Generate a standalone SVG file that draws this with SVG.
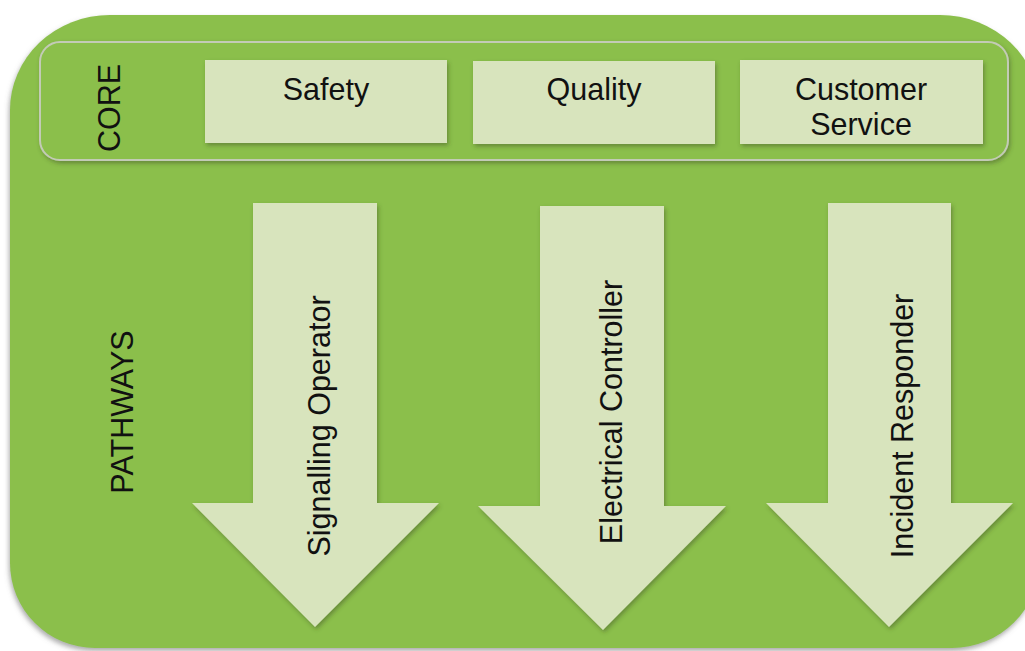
<svg xmlns="http://www.w3.org/2000/svg" width="1025" height="651" viewBox="0 0 1025 651">
  <defs>
    <filter id="sh" x="-10%" y="-10%" width="120%" height="120%">
      <feDropShadow dx="1.5" dy="2.5" stdDeviation="2" flood-color="#3a4a20" flood-opacity="0.45"/>
    </filter>
    <filter id="shbg" x="-5%" y="-5%" width="110%" height="110%">
      <feDropShadow dx="-1" dy="3" stdDeviation="2.5" flood-color="#666666" flood-opacity="0.55"/>
    </filter>
  </defs>
  <style>
    .bg { fill: #8bbf4b; }
    .core { fill: #8bbf4b; stroke: #c3cbb6; stroke-width: 2; }
    .box { fill: #d8e4bd; }
    .arrow { fill: #d8e4bd; }
    text { font-family: "Liberation Sans", Arial, sans-serif; font-size: 30.5px; fill: #111111; }
    .c { text-anchor: middle; }
  </style>
  <rect width="1025" height="651" fill="#ffffff"/>
  <g id="background">
    <path class="bg" d="M110,15 H940 A100,95 0 0 1 1040,110 V560 A88,88 0 0 1 952,648 H95 A85,85 0 0 1 10,563 V110 A100,95 0 0 1 110,15 Z" filter="url(#shbg)"/>
  </g>
  <g id="core">
    <rect class="core" x="40" y="42" width="968" height="118" rx="20" ry="20" filter="url(#sh)"/>
    <text class="c" transform="translate(120,108) rotate(-90)">CORE</text>
  </g>
  <g id="safety">
    <rect class="box" x="205" y="60" width="242" height="83" filter="url(#sh)"/>
    <text class="c" x="326" y="100">Safety</text>
  </g>
  <g id="quality">
    <rect class="box" x="473" y="61" width="242" height="83" filter="url(#sh)"/>
    <text class="c" x="594" y="100">Quality</text>
  </g>
  <g id="customer-service">
    <rect class="box" x="740" y="60" width="243" height="84" filter="url(#sh)"/>
    <text class="c" x="861" y="100">Customer</text>
    <text class="c" x="861" y="135">Service</text>
  </g>
  <g id="pathways">
    <text class="c" transform="translate(133,412) rotate(-90)">PATHWAYS</text>
  </g>
  <g id="connectors">
    <g id="arrow-signalling">
      <polygon class="arrow" points="253,203 377,203 377,503 439,503 315,627 192,503 253,503" filter="url(#sh)"/>
      <text class="c" transform="translate(330,426) rotate(-90)">Signalling Operator</text>
    </g>
    <g id="arrow-electrical">
      <polygon class="arrow" points="540,206 664,206 664,506 726,506 603,630 478,506 540,506" filter="url(#sh)"/>
      <text class="c" transform="translate(622,412) rotate(-90)">Electrical Controller</text>
    </g>
    <g id="arrow-incident">
      <polygon class="arrow" points="828,203 951,203 951,503 1013,503 889,627 766,503 828,503" filter="url(#sh)"/>
      <text class="c" transform="translate(913,426) rotate(-90)">Incident Responder</text>
    </g>
  </g>
</svg>
